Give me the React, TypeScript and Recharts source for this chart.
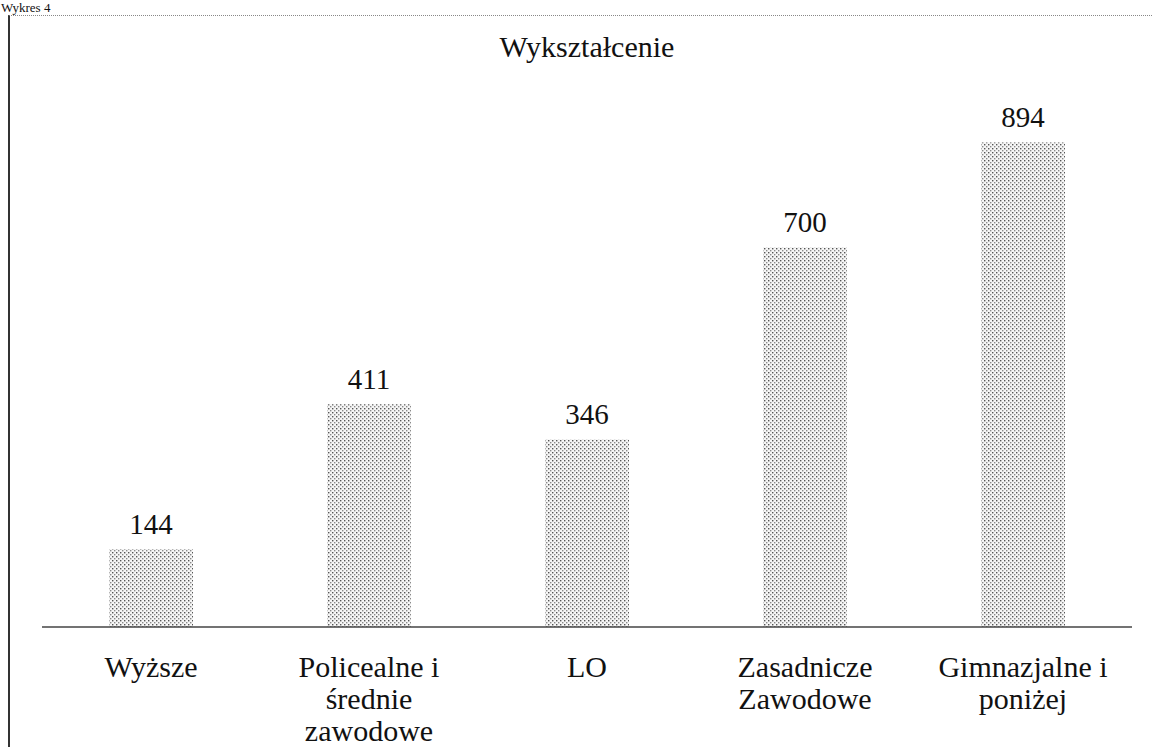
import React from 'react';
import { BarChart, Bar, XAxis, YAxis, LabelList } from 'recharts';

const categories = ['Wyższe', 'Policealne i\nśrednie\nzawodowe', 'LO', 'Zasadnicze\nZawodowe', 'Gimnazjalne i\nponiżej'];
const values = [144, 411, 346, 700, 894];
const title = 'Wykształcenie';
const caption = 'Wykres 4';

const data = categories.map((c, i) => ({ name: c, value: values[i] }));

const FONT = 'Liberation Serif';

const Tick = (props: any) => {
  const { x, y, payload } = props;
  const lines = String(payload.value).split('\n');
  return (
    <g>
      {lines.map((l: string, i: number) => (
        <text key={i} x={x} y={y + 42 + i * 32} textAnchor="middle" fontFamily={FONT} fontSize={30} fill="#111">
          {l}
        </text>
      ))}
    </g>
  );
};

export default function App() {
  return (
    <div style={{ position: 'absolute', left: 0, top: 0, width: 1152, height: 747, background: '#fff', overflow: 'hidden', fontFamily: FONT }}>
      <div style={{ position: 'absolute', left: 1, top: 1, fontSize: 13, color: '#111', lineHeight: '13px' }}>{caption}</div>
      <div style={{ position: 'absolute', left: 8, top: 15, width: 1144, height: 732, borderLeft: '2px solid #333', borderTop: '1px dotted #888', boxSizing: 'border-box' }} />
      <div style={{ position: 'absolute', left: 0, top: 0 }}>
        <BarChart width={1152} height={747} data={data} margin={{ top: 139, right: 20, bottom: 90, left: 42 }} barCategoryGap={0}>
          <defs>
            <pattern id="dots" width="4" height="4" patternUnits="userSpaceOnUse">
              <rect width="4" height="4" fill="#f6f6f6" />
              <rect x="0" y="0" width="1.4" height="1.4" fill="#555" />
              <rect x="2" y="2" width="1.4" height="1.4" fill="#8a8a8a" />
            </pattern>
          </defs>
          <text x={587} y={57} textAnchor="middle" fontFamily={FONT} fontSize={30} fill="#111">{title}</text>
          <XAxis dataKey="name" axisLine={{ stroke: '#444', strokeWidth: 1.5 }} tickLine={false} tick={<Tick />} interval={0} />
          <YAxis hide domain={[0, 900]} />
          <Bar dataKey="value" fill="url(#dots)" barSize={84} isAnimationActive={false}>
            <LabelList dataKey="value" position="top" offset={15} fontFamily={FONT} fontSize={29} fill="#111" />
          </Bar>
        </BarChart>
      </div>
    </div>
  );
}
